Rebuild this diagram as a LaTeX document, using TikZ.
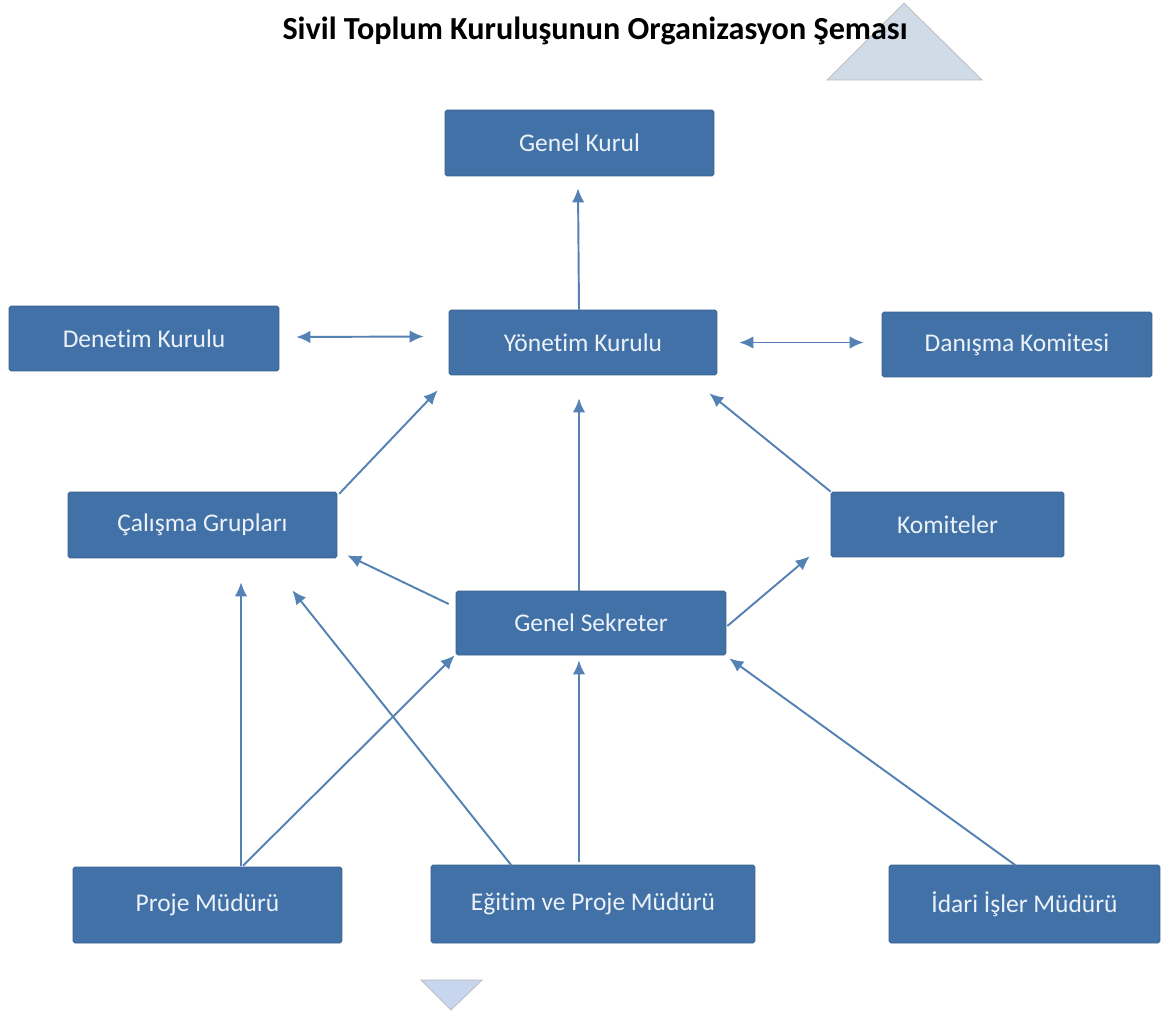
\documentclass[tikz,border=0pt]{standalone}
\usepackage{fontspec}
\setmainfont{Carlito}[Ligatures=NoCommon]
\usetikzlibrary{arrows.meta,calc}

\definecolor{kutumavi}{RGB}{65,113,166}
\definecolor{okmavi}{RGB}{84,130,180}
\definecolor{yazibeyaz}{RGB}{236,242,248}
\definecolor{ustucgen}{RGB}{207,219,230}
\definecolor{altucgen}{RGB}{199,214,238}

\tikzset{
  kutu/.style={draw=kutumavi!85!black, line width=0.4pt, fill=kutumavi, text=yazibeyaz,
    font=\fontsize{14.5}{17}\selectfont, inner sep=0pt, rounded corners=1pt},
  ok/.style={draw=okmavi, line width=1.1pt, -{Latex[length=2.8mm,width=2.5mm]}},
  ciftok/.style={draw=okmavi, line width=1.1pt, {Latex[length=2.8mm,width=2.5mm]}-{Latex[length=2.8mm,width=2.5mm]}}
}

\begin{document}
\begin{tikzpicture}[x=0.02cm,y=-0.02cm]
        \useasboundingbox (0,0) rectangle (1166,1017);
        \fill[white] (0,0) rectangle (1166,1017);
        % kose ucgenleri
        \fill[ustucgen, draw=gray!55] (827,80) -- (904,3) -- (982,80) -- cycle;
        \fill[altucgen, draw=gray!55] (421,980) -- (482,980) -- (451,1010) -- cycle;
        \node[font=\fontsize{18.3}{22}\selectfont\bfseries] (baslik) at (595,31) {Sivil Toplum Kuruluşunun Organizasyon Şeması};

        \node[kutu, minimum width=5.38cm, minimum height=1.32cm] (genkurul) at (579.5,143) {Genel Kurul};
        \node[kutu, minimum width=5.40cm, minimum height=1.30cm] (denetim) at (144,338.5) {Denetim Kurulu};
        \node[kutu, minimum width=5.36cm, minimum height=1.30cm] (yonetim) at (583,342.5) {Yönetim Kurulu};
        \node[kutu, minimum width=5.40cm, minimum height=1.30cm] (danisma) at (1017,344.5) {Danışma Komitesi};
        \node[kutu, minimum width=5.38cm, minimum height=1.32cm] (calisma) at (202.5,525) {Çalışma Grupları};
        \node[kutu, minimum width=4.66cm, minimum height=1.30cm] (komite) at (947.5,524.5) {Komiteler};
        \node[kutu, minimum width=5.40cm, minimum height=1.28cm] (sekreter) at (591,623) {Genel Sekreter};
        \node[kutu, minimum width=5.38cm, minimum height=1.52cm] (proje) at (207.5,905) {Proje Müdürü};
        \node[kutu, minimum width=6.48cm, minimum height=1.56cm] (egitim) at (593,904) {Eğitim ve Proje Müdürü};
        \node[kutu, minimum width=5.42cm, minimum height=1.56cm] (idari) at (1024.5,904) {İdari İşler Müdürü};

        % oklar
        \draw[ok] ($(yonetim.north)+(-4,0)$) -- ($(genkurul.south)+(-1.5,12)$);
        \draw[ciftok] ($(denetim.east)+(17,-1.5)$) -- ($(yonetim.west)+(-25,-6)$);
        \draw[ciftok] ($(yonetim.east)+(22,0)$) -- ($(danisma.west)+(-18,-2)$);
        \draw[ok] ($(calisma.north east)+(2,2)$) -- ($(yonetim.south west)+(-11,15)$);
        \draw[ok] ($(sekreter.north)+(-12,0)$) -- ($(yonetim.south)+(-4,23)$);
        \draw[ok] (komite.north west) -- ($(yonetim.south east)+(-8,18)$);
        \draw[ok] ($(sekreter.west)+(-7,-19)$) -- ($(calisma.south east)+(10,-3)$);
        \draw[ok] ($(sekreter.east)+(1,3)$) -- ($(komite.south west)+(-21,-1)$);
        \draw[ok] ($(proje.north)+(33.5,-1)$) -- ($(calisma.south)+(38.5,24)$);
        \draw[ok] ($(proje.north)+(35.5,-1)$) -- ($(sekreter.south west)+(-1,0)$);
        \draw[ok] ($(egitim.north west)+(81,1)$) -- ($(calisma.south east)+(-45,32)$);
        \draw[ok] ($(egitim.north)+(-14,-3)$) -- ($(sekreter.south)+(-12,5)$);
        \draw[ok] ($(idari.north)+(-8.5,1)$) -- ($(sekreter.south east)+(3,3)$);
\end{tikzpicture}
\end{document}
